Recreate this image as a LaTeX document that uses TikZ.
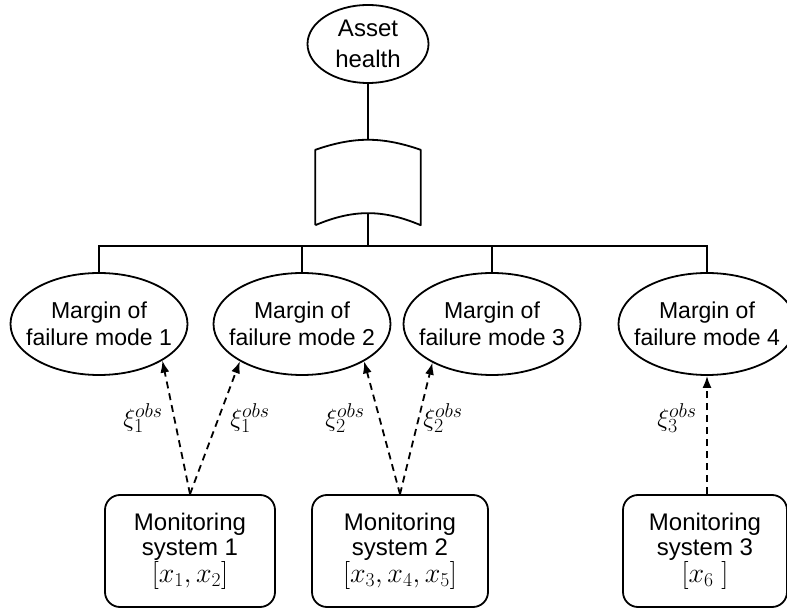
\RequirePackage{fix-cm}
\documentclass[tikz,border=0pt]{standalone}
\usepackage{fontspec}
\setmainfont{Liberation Sans}
\usetikzlibrary{shapes.geometric,calc,arrows.meta}
\DeclareMathSizes{25}{25}{20}{15}
\newcommand{\varlist}[1]{{\fontsize{28}{25}\selectfont$#1$}}

\begin{document}
\begin{tikzpicture}[x=1pt,y=-1pt,
  tree/.style={line width=1.8pt},
  margin/.style={ellipse,draw,line width=1.8pt,minimum width=177pt,minimum height=102pt,inner xsep=-14pt,inner ysep=0pt,align=center,font=\fontsize{23}{27}\selectfont},
  monitor/.style={rectangle,rounded corners=15pt,draw,line width=1.8pt,minimum height=112pt,align=center,font=\fontsize{24}{25}\selectfont},
  obsarrow/.style={-{Latex[length=12pt,width=9pt]},dash pattern=on 7pt off 5pt,line width=1.8pt},
  obslabel/.style={inner sep=0pt,font=\fontsize{25}{25}\selectfont}]
\useasboundingbox (0,0) rectangle (787,609);

% top
\node (health)[ellipse,draw,line width=1.8pt,minimum width=121pt,minimum height=78pt,inner sep=0pt,align=center,font=\fontsize{24}{31}\selectfont] at (368,44) {Asset\\health};
\node (gate)[rectangle,minimum width=105pt,minimum height=85pt,inner sep=0pt] at (368,182.5) {};
\draw[tree,line join=round] (gate.south west) -- ($(gate.north west)+(0,10)$) to[bend left=19] ($(gate.north east)+(0,10)$) -- (gate.south east) to[bend right=23] (gate.south west);
\coordinate (gbot) at ($(gate.south)+(0,-12)$);
\coordinate (bus) at ($(gbot)+(0,33)$);
\draw[tree] (health.south) -- (gate.north);
\draw[tree] (gbot) -- (bus);

% failure modes
\node (m1)[margin] at (99,324) {Margin of\\failure mode 1};
\node (m2)[margin] at (302,324) {Margin of\\failure mode 2};
\node (m3)[margin] at (492,324) {Margin of\\failure mode 3};
\node (m4)[margin] at (707,324) {Margin of\\failure mode 4};
\draw[tree] (m1.north) |- (bus) -| (m4.north);
\draw[tree] (m2.north) -- (m2.north |- bus);
\draw[tree] (m3.north) -- (m3.north |- bus);

% monitoring systems
\node (s1)[monitor,minimum width=170pt] at (190,551) {Monitoring\\system 1\\\varlist{[x_1,x_2]}};
\node (s2)[monitor,minimum width=176pt] at (400,551) {Monitoring\\system 2\\\varlist{[x_3,x_4,x_5]}};
\node (s3)[monitor,minimum width=164pt] at (705,551) {Monitoring\\system 3\\\varlist{[x_6\ ]}};

\draw[obsarrow] (s1.north) -- (m1.-30);
\draw[obsarrow] (s1.north) -- (m2.-149);
\draw[obsarrow] (s2.north) -- (m2.-31);
\draw[obsarrow] (s2.north) -- (m3.-147);
\draw[obsarrow] (s3.north -| m4.south) -- (m4.south);

\node (o1)[obslabel] at (143,418) {$\xi_1^{obs}$};
\node (o2)[obslabel] at (250,418) {$\xi_1^{obs}$};
\node (o3)[obslabel] at (345,418) {$\xi_2^{obs}$};
\node (o4)[obslabel] at (443,418) {$\xi_2^{obs}$};
\node (o5)[obslabel] at (677,418) {$\xi_3^{obs}$};
\end{tikzpicture}
\end{document}
